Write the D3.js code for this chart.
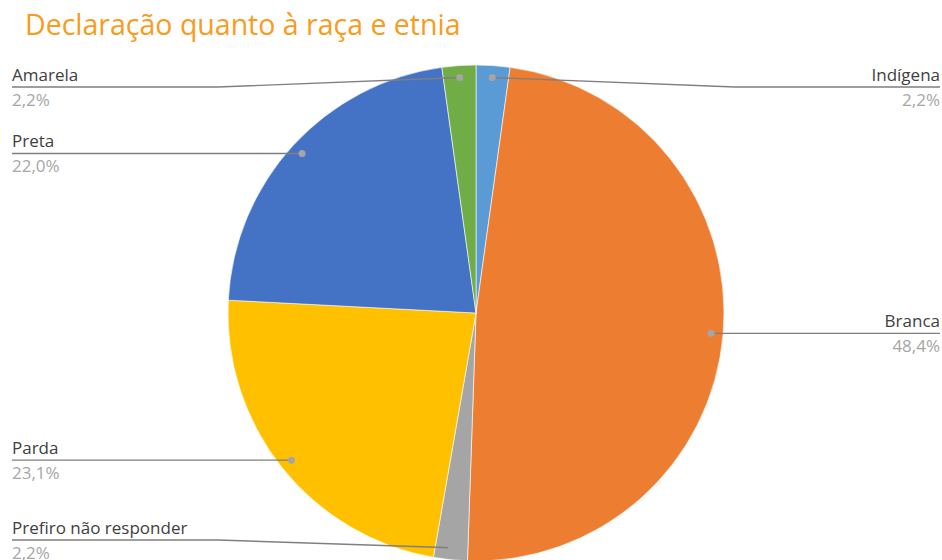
<!DOCTYPE html>
<html>
<head>
<meta charset="utf-8">
<script src="https://cdn.jsdelivr.net/npm/d3@7"></script>
<style>
  html, body { margin: 0; padding: 0; background: #fff; }
  svg { display: block; }
</style>
</head>
<body>
<svg id="chart" width="942" height="560"></svg>
<script>
const title = "Declaração quanto à raça e etnia";
const categories = ["Indígena", "Branca", "Prefiro não responder", "Parda", "Preta", "Amarela"];
const values = [2.2, 48.4, 2.2, 23.1, 22.0, 2.2];
const valueLabels = ["2,2%", "48,4%", "2,2%", "23,1%", "22,0%", "2,2%"];
const colors = ["#5B9BD5", "#ED7D31", "#A5A5A5", "#FFC000", "#4472C4", "#70AD47"];

const W = 942, H = 560;
const cx = 476, cy = 313, R = 248;
const svg = d3.select("#chart");

svg.append("text")
  .attr("x", 25).attr("y", 35)
  .attr("font-family", "'Open Sans', sans-serif")
  .attr("font-size", 28.5)
  .attr("fill", "#F99B1C")
  .text(title);

const data = categories.map((c, i) => ({ name: c, value: values[i], label: valueLabels[i], color: colors[i] }));
const pie = d3.pie().value(d => d.value).sort(null);
const arcs = pie(data);
const arc = d3.arc().innerRadius(0).outerRadius(R);
const dotArc = d3.arc().innerRadius(236).outerRadius(236);

const g = svg.append("g").attr("transform", `translate(${cx},${cy})`);
g.selectAll("path.slice").data(arcs).join("path")
  .attr("class", "slice")
  .attr("d", arc)
  .attr("fill", d => d.data.color)
  .attr("stroke", "#fff").attr("stroke-width", 0.6);

const leftX = 12, rightX = 940;
const elbowL = 218, elbowR = 735;
const minY = 87, maxY = 540;
const lines = svg.append("g");
arcs.forEach(a => {
  const [dx, dy] = dotArc.centroid(a);
  const px = cx + dx, py = cy + dy;
  const mid = (a.startAngle + a.endAngle) / 2;
  const right = mid < Math.PI;
  const ly = Math.max(minY, Math.min(maxY, py));
  const ex = right ? elbowR : elbowL;
  const endX = right ? rightX : leftX;
  const pts = Math.abs(ly - py) > 0.5 ? [[px, py], [ex, ly], [endX, ly]] : [[px, py], [endX, ly]];
  lines.append("path")
    .attr("d", d3.line()(pts))
    .attr("fill", "none")
    .attr("stroke", "#7F7F7F").attr("stroke-width", 1.4);
  lines.append("circle").attr("cx", px).attr("cy", py).attr("r", 3.5).attr("fill", "#A5A5A5");
  const anchor = right ? "end" : "start";
  lines.append("text")
    .attr("x", endX).attr("y", ly - 6)
    .attr("text-anchor", anchor)
    .attr("font-family", "'Open Sans', sans-serif")
    .attr("font-size", 17)
    .attr("fill", "#404040")
    .text(a.data.name);
  lines.append("text")
    .attr("x", endX).attr("y", ly + 19)
    .attr("text-anchor", anchor)
    .attr("font-family", "'Open Sans', sans-serif")
    .attr("font-size", 17)
    .attr("fill", "#A6A6A6")
    .text(a.data.label);
});
</script>
</body>
</html>
